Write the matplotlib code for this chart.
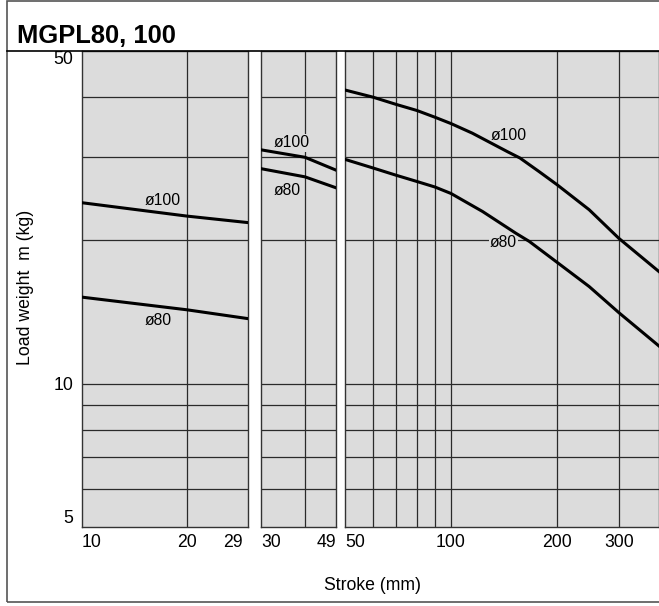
import matplotlib
matplotlib.use('Agg')
from matplotlib import pyplot as plt
from matplotlib.patches import Rectangle
from matplotlib.lines import Line2D

plt.rcParams['font.family'] = ['Liberation Sans', 'DejaVu Sans']

# stroke 10..29
x1 = [10, 20, 30]
p100_1 = [24.0, 22.5, 21.8]
p80_1 = [15.2, 14.3, 13.7]
# stroke 30..49
x2 = [30, 40, 49]
p100_2 = [31.0, 29.9, 28.1]
p80_2 = [28.3, 27.2, 25.8]
# stroke 50..
x3_100 = [50, 60, 70, 80, 90, 100, 115, 145, 157, 178, 200, 247, 300, 390]
p100_3 = [41.4, 40.0, 38.6, 37.5, 36.3, 35.2, 33.6, 30.7, 29.8, 27.9, 26.2, 23.2, 20.2, 17.2]
x3_80 = [50, 60, 70, 80, 90, 100, 123, 153, 167, 200, 247, 300, 390]
p80_3 = [29.6, 28.4, 27.4, 26.6, 25.9, 25.1, 23.0, 20.7, 19.9, 18.0, 16.0, 14.1, 12.0]

hgrid = [6, 7, 8, 9, 10, 20, 30, 40]
W, H = 659, 606
bg = '#dcdcdc'
gc = '#2a2a2a'

fig = plt.figure(figsize=(W / 100, H / 100), dpi=100)

def box(x0, x1_):
    return [x0 / W, (H - 527) / H, (x1_ - x0) / W, 476 / H]

panels = [
    (box(82, 248), (10, 30), [(x1, p100_1), (x1, p80_1)], [20], [10, 20, 29], ['10', '20', '29']),
    (box(261, 336), (30, 49), [(x2, p100_2), (x2, p80_2)], [40], [30, 49], ['30', '49']),
    (box(345, 659), (50, 390), [(x3_100, p100_3), (x3_80, p80_3)],
     [60, 70, 80, 90, 100, 200, 300], [50, 100, 200, 300], ['50', '100', '200', '300']),
]
axes = []
for i, (rect, xl, series, vg, xt, xtl) in enumerate(panels):
    ax = fig.add_axes(rect)
    ax.set_facecolor(bg)
    ax.set_xscale('log')
    ax.set_yscale('log')
    ax.set_xlim(xl)
    ax.set_ylim(5, 50)
    for v in vg:
        ax.axvline(v, color=gc, lw=0.9, zorder=1)
    for h in hgrid:
        ax.axhline(h, color=gc, lw=0.9, zorder=1)
    for xs, ys in series:
        ax.plot(xs, ys, color='black', lw=2.2, zorder=3, solid_joinstyle='round')
    ax.xaxis.set_minor_locator(matplotlib.ticker.NullLocator())
    ax.yaxis.set_minor_locator(matplotlib.ticker.NullLocator())
    ax.set_xticks(xt)
    ax.set_xticklabels(xtl)
    ax.tick_params(axis='x', length=0, pad=5, labelsize=12.7)
    labs = ax.get_xticklabels()
    labs[0].set_ha('left')
    if i < 2:
        labs[-1].set_ha('right')
    if i == 0:
        ax.set_yticks([5, 10, 50])
        ax.set_yticklabels(['5', '10', '50'])
        ax.tick_params(axis='y', length=0, pad=6, labelsize=12.7)
        yl = ax.get_yticklabels()
        yl[0].set_va('bottom')
        yl[2].set_va('top')
    else:
        ax.set_yticks([])
    for s in ax.spines.values():
        s.set_color('#333333')
        s.set_linewidth(1.0)
    axes.append(ax)

lab = dict(fontsize=11.3, ha='center', va='center', zorder=2,
           bbox=dict(facecolor=bg, edgecolor='none', pad=1))
axes[0].text(17.1, 24.3, 'ø100', **lab)
axes[0].text(16.6, 13.55, 'ø80', **lab)
axes[1].text(36.7, 32.1, 'ø100', **lab)
axes[1].text(35.6, 25.5, 'ø80', **lab)
axes[2].text(146, 33.3, 'ø100', **lab)
axes[2].text(141, 19.8, 'ø80', **lab)

# outer frame and title rule
fig.patches.append(Rectangle((7 / W, 4 / H), 1.2, (H - 4.7) / H, transform=fig.transFigure,
                             fill=False, edgecolor='#555555', lw=1.2))
fig.lines.append(Line2D([7 / W, 1], [(H - 51) / H] * 2, transform=fig.transFigure,
                        color='black', lw=1.2))
fig.text(17 / W, (H - 43) / H, 'MGPL80, 100', fontsize=18.4, fontweight='bold',
         va='baseline', ha='left')
fig.text(372 / W, (H - 585) / H, 'Stroke (mm)', fontsize=12.7, ha='center', va='center')
fig.text(26 / W, (H - 287) / H, 'Load weight  m (kg)', fontsize=12.7, rotation=90,
         ha='center', va='center')

fig.savefig('out.png', dpi=100)
